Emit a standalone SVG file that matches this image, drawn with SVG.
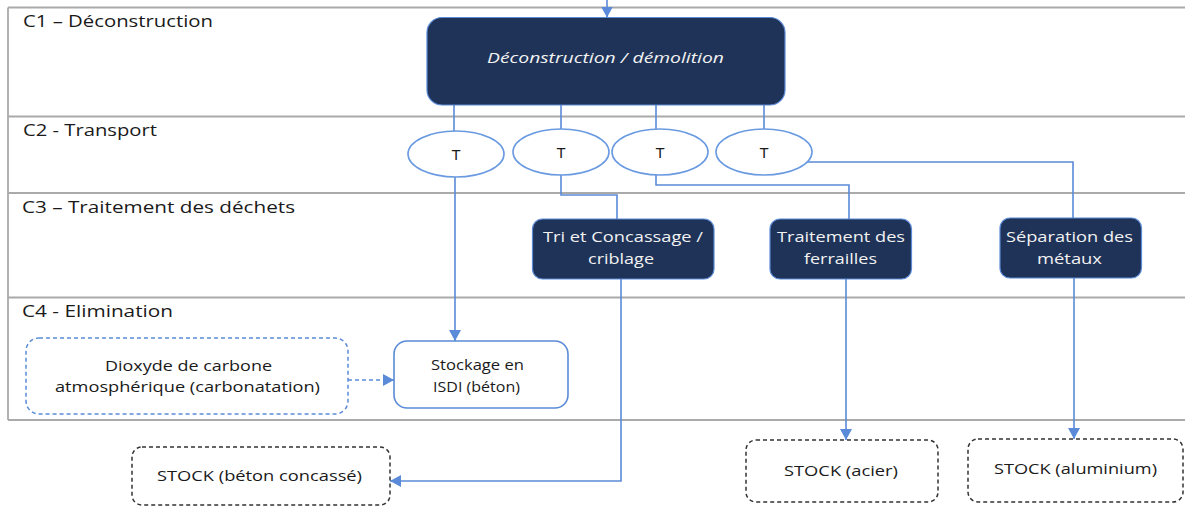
<svg xmlns="http://www.w3.org/2000/svg" width="1185" height="506" viewBox="0 0 1185 506">
<style>
text{font-family:"Open Sans","Liberation Sans",sans-serif;}
.lbl{font-size:16px;fill:#1a1a1a;}
.wt{font-size:15px;fill:#f2f2f2;}
.bk{font-size:15px;fill:#1a1a1a;}
.grid{stroke:#aaaaaa;stroke-width:1.8;fill:none;}
.dark{fill:#1f3358;stroke:#5b8ad6;stroke-width:1.2;}
.ell{fill:#ffffff;stroke:#6a9ae0;stroke-width:1.6;}
.con{fill:none;stroke:#5a8ad8;stroke-width:1.6;}
.dash{fill:none;stroke:#5a8ad8;stroke-width:1.5;stroke-dasharray:4 3;}
.stock{fill:#ffffff;stroke:#333333;stroke-width:1.5;stroke-dasharray:4 3;}
.tt{font-size:15px;fill:#1a1a1a;text-anchor:middle;font-family:"Liberation Sans",sans-serif;}
</style>
<defs>
<marker id="ah" viewBox="0 0 11 12" refX="11" refY="6" markerWidth="11" markerHeight="12" markerUnits="userSpaceOnUse" orient="auto">
<path d="M0,0 L11,6 L0,12 z" fill="#5a8ad8"/>
</marker>
</defs>
<rect width="1185" height="506" fill="#ffffff"/>
<g id="table">
<path class="grid" d="M8,7.5 H1185 M8,116.5 H1185 M8,193 H1185 M8,297.5 H1185 M8,420 H1185 M8,7.5 V420"/>
<text class="lbl" x="23" y="27" textLength="190" lengthAdjust="spacingAndGlyphs">C1 – Déconstruction</text>
<text class="lbl" x="23" y="136" textLength="134" lengthAdjust="spacingAndGlyphs">C2 - Transport</text>
<text class="lbl" x="22" y="213" textLength="273" lengthAdjust="spacingAndGlyphs">C3 – Traitement des déchets</text>
<text class="lbl" x="22" y="317" textLength="151" lengthAdjust="spacingAndGlyphs">C4 - Elimination</text>
</g>
<g id="connectors">
<path class="con" d="M607,0 V17.5" marker-end="url(#ah)"/>
<path class="con" d="M454,100 V131"/>
<path class="con" d="M561,105 V129"/>
<path class="con" d="M656,105 V129"/>
<path class="con" d="M764,105 V129"/>
<path class="con" d="M455,177 V341" marker-end="url(#ah)"/>
<path class="con" d="M561,175 V195 H617 V219"/>
<path class="con" d="M656,175 V185 H849 V219"/>
<path class="con" d="M807,162 H1073 V218"/>
<path class="con" d="M621,279 V481 H390" marker-end="url(#ah)"/>
<path class="con" d="M846,279 V440" marker-end="url(#ah)"/>
<path class="con" d="M1074,278 V439" marker-end="url(#ah)"/>
<path class="dash" d="M348,380 H394" marker-end="url(#ah)"/>
</g>
<g id="deconstruction">
<rect class="dark" x="427" y="17.5" width="358" height="87.5" rx="15"/>
<text class="wt" x="487" y="63" font-size="16" font-style="italic" textLength="237" lengthAdjust="spacingAndGlyphs">Déconstruction / démolition</text>
</g>
<g id="t1"><ellipse class="ell" cx="456" cy="154" rx="48" ry="23"/><text class="tt" x="456" y="160">T</text></g>
<g id="t2"><ellipse class="ell" cx="561" cy="152" rx="48" ry="23"/><text class="tt" x="561" y="158">T</text></g>
<g id="t3"><ellipse class="ell" cx="660" cy="152" rx="48" ry="23"/><text class="tt" x="660" y="158">T</text></g>
<g id="t4"><ellipse class="ell" cx="764" cy="152" rx="48" ry="23"/><text class="tt" x="764" y="158">T</text></g>
<g id="tri">
<rect class="dark" x="532.5" y="219" width="181.5" height="60" rx="10"/>
<text class="wt" x="543" y="242" textLength="160" lengthAdjust="spacingAndGlyphs">Tri et Concassage /</text>
<text class="wt" x="588" y="264" textLength="66" lengthAdjust="spacingAndGlyphs">criblage</text>
</g>
<g id="ferrailles">
<rect class="dark" x="770" y="219" width="141.5" height="60" rx="10"/>
<text class="wt" x="777" y="242" textLength="128" lengthAdjust="spacingAndGlyphs">Traitement des</text>
<text class="wt" x="804" y="264" textLength="73" lengthAdjust="spacingAndGlyphs">ferrailles</text>
</g>
<g id="separation">
<rect class="dark" x="1000" y="218" width="141.5" height="60" rx="10"/>
<text class="wt" x="1006" y="242" textLength="127" lengthAdjust="spacingAndGlyphs">Séparation des</text>
<text class="wt" x="1037" y="264" textLength="65" lengthAdjust="spacingAndGlyphs">métaux</text>
</g>
<g id="dioxyde">
<rect x="26" y="338" width="322" height="76" rx="13" fill="#ffffff" stroke="#5a8ad8" stroke-width="1.5" stroke-dasharray="4 3"/>
<text class="bk" x="105" y="371" textLength="167" lengthAdjust="spacingAndGlyphs">Dioxyde de carbone</text>
<text class="bk" x="55" y="392" textLength="265" lengthAdjust="spacingAndGlyphs">atmosphérique (carbonatation)</text>
</g>
<g id="stockage">
<rect x="394" y="341" width="174" height="67" rx="13" fill="#ffffff" stroke="#5a8ad8" stroke-width="1.6"/>
<text class="bk" x="431" y="370" textLength="93" lengthAdjust="spacingAndGlyphs">Stockage en</text>
<text class="bk" x="433" y="392" textLength="87" lengthAdjust="spacingAndGlyphs">ISDI (béton)</text>
</g>
<g id="stock-beton">
<rect class="stock" x="132" y="447" width="258" height="58" rx="10"/>
<text class="bk" x="157" y="481" textLength="205" lengthAdjust="spacingAndGlyphs">STOCK (béton concassé)</text>
</g>
<g id="stock-acier">
<rect class="stock" x="746" y="440" width="192" height="62" rx="10"/>
<text class="bk" x="784" y="476" textLength="114" lengthAdjust="spacingAndGlyphs">STOCK (acier)</text>
</g>
<g id="stock-aluminium">
<rect class="stock" x="968" y="439" width="215" height="63" rx="10"/>
<text class="bk" x="994" y="474" textLength="163" lengthAdjust="spacingAndGlyphs">STOCK (aluminium)</text>
</g>
</svg>
